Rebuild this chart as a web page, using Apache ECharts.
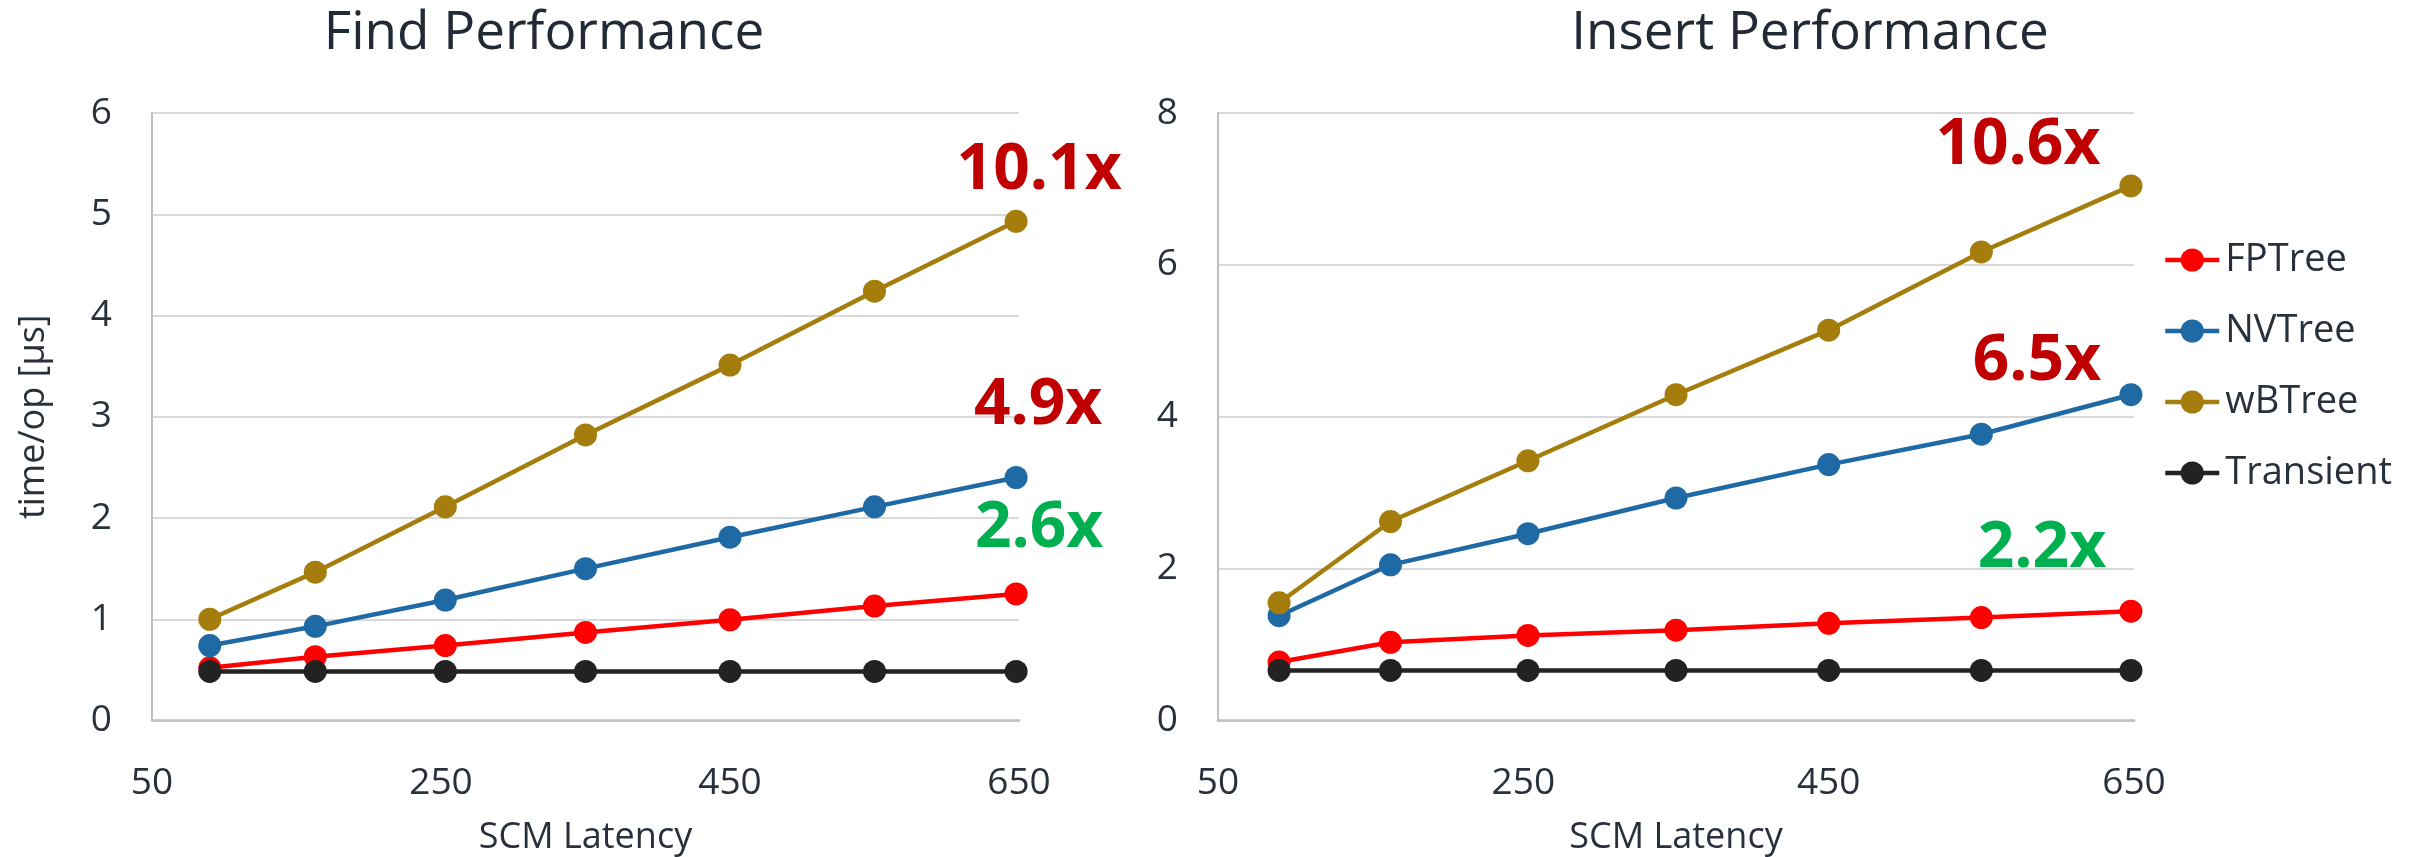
<!DOCTYPE html>
<html>
<head>
<meta charset="utf-8">
<script src="https://cdn.jsdelivr.net/npm/echarts@6/dist/echarts.min.js"></script>
<style>
  html, body { margin: 0; padding: 0; background: #ffffff; }
  #chart { width: 2423px; height: 857px; }
</style>
</head>
<body>
<div id="chart"></div>
<script>
// SCM latency values (x) shared by both panels
const latency = [90, 163, 253, 350, 450, 550, 648];

// Find: time per operation [µs]
const findFPTree    = [0.52, 0.63, 0.74, 0.87, 0.995, 1.13, 1.25];
const findNVTree    = [0.74, 0.93, 1.19, 1.50, 1.81, 2.11, 2.40];
const findWBTree    = [1.00, 1.465, 2.11, 2.82, 3.51, 4.24, 4.93];
const findTransient = [0.485, 0.485, 0.485, 0.485, 0.485, 0.485, 0.485];

// Insert: time per operation [µs]
const insertFPTree    = [0.77, 1.03, 1.12, 1.19, 1.28, 1.355, 1.44];
const insertNVTree    = [1.38, 2.05, 2.46, 2.93, 3.37, 3.77, 4.29];
const insertWBTree    = [1.55, 2.62, 3.42, 4.29, 5.14, 6.17, 7.04];
const insertTransient = [0.66, 0.66, 0.66, 0.66, 0.66, 0.66, 0.66];

const seriesNames = ['FPTree', 'NVTree', 'wBTree', 'Transient'];
const panelTitles = ['Find Performance', 'Insert Performance'];
const xAxisName = 'SCM Latency';
const yAxisName = 'time/op [µs]';

// speedup callouts (slowdown vs. Transient at the highest latency)
const findSpeedups   = ['10.1x', '4.9x', '2.6x'];
const insertSpeedups = ['10.6x', '6.5x', '2.2x'];

const colors = {
  FPTree: '#FF0000',
  NVTree: '#1F6AA5',
  wBTree: '#A57D0C',
  Transient: '#222222'
};
const textColor = '#28303b';
const darkRed = '#C00000';
const green = '#00B050';
const FONT = '"Open Sans", "Noto Sans", sans-serif';
const LINE_W = 4.5;

function pairs(values) {
  return latency.map((x, i) => [x, values[i]]);
}

// a speedup callout anchored at the last point of a series
function callout(text, color, lastY, offset) {
  return {
    coord: [latency[latency.length - 1], lastY],
    symbol: 'circle',
    symbolSize: 1,
    itemStyle: { color: 'rgba(0,0,0,0)' },
    label: {
      show: true,
      position: 'inside',
      offset: offset,
      formatter: text,
      color: color,
      fontFamily: FONT,
      fontWeight: 'bold',
      fontSize: 64
    }
  };
}

function lineSeries(name, panel, values, marks) {
  const s = {
    type: 'line',
    name: name,
    xAxisIndex: panel,
    yAxisIndex: panel,
    data: pairs(values),
    symbol: 'circle',
    symbolSize: 23,
    showAllSymbol: true,
    lineStyle: { width: LINE_W, color: colors[name] },
    itemStyle: { color: colors[name] },
    emphasis: { disabled: true },
    animation: false
  };
  if (marks) {
    s.markPoint = { silent: true, animation: false, data: marks };
  }
  return s;
}

const last = arr => arr[arr.length - 1];

const series = [
  lineSeries('FPTree', 0, findFPTree),
  lineSeries('NVTree', 0, findNVTree, [
    callout(findSpeedups[1], darkRed, last(findNVTree), [22, -72]),
    callout(findSpeedups[2], green, last(findNVTree), [23, 51])
  ]),
  lineSeries('wBTree', 0, findWBTree, [
    callout(findSpeedups[0], darkRed, last(findWBTree), [23, -51])
  ]),
  lineSeries('Transient', 0, findTransient),

  lineSeries('FPTree', 1, insertFPTree, [
    callout(insertSpeedups[2], green, last(insertFPTree), [-89, -62])
  ]),
  lineSeries('NVTree', 1, insertNVTree, [
    callout(insertSpeedups[1], darkRed, last(insertNVTree), [-94, -33])
  ]),
  lineSeries('wBTree', 1, insertWBTree, [
    callout(insertSpeedups[0], darkRed, last(insertWBTree), [-113, -40])
  ]),
  lineSeries('Transient', 1, insertTransient)
];

function xAxis(gridIndex) {
  return {
    type: 'value',
    gridIndex: gridIndex,
    min: 50,
    max: 650,
    interval: 200,
    name: xAxisName,
    nameLocation: 'middle',
    nameGap: 99,
    nameTextStyle: { fontFamily: FONT, fontSize: 36, color: textColor },
    axisLine: { show: true, lineStyle: { color: '#BFBFBF', width: 2.5 } },
    axisTick: { show: false },
    splitLine: { show: false },
    axisLabel: { fontFamily: FONT, fontSize: 37, color: textColor, margin: 44 }
  };
}

function yAxis(gridIndex, max, interval, withName) {
  const a = {
    type: 'value',
    gridIndex: gridIndex,
    min: 0,
    max: max,
    interval: interval,
    axisLine: { show: true, lineStyle: { color: '#BFBFBF', width: 2 } },
    axisTick: { show: false },
    splitLine: { show: true, lineStyle: { color: '#D9D9D9', width: 2 } },
    axisLabel: { fontFamily: FONT, fontSize: 37, color: textColor, margin: 40 }
  };
  if (withName) {
    a.name = yAxisName;
    a.nameLocation = 'middle';
    a.nameRotate = 90;
    a.nameGap = 100;
    a.nameTextStyle = { fontFamily: FONT, fontSize: 36, color: textColor };
  }
  return a;
}

const chart = echarts.init(document.getElementById('chart'), null, { renderer: 'canvas' });
chart.setOption({
  backgroundColor: '#ffffff',
  animation: false,
  title: [
    {
      text: panelTitles[0], left: 539, top: 2, textAlign: 'center',
      textStyle: { fontFamily: FONT, fontSize: 53, fontWeight: 'normal', color: '#222a35' }
    },
    {
      text: panelTitles[1], left: 1805, top: 2, textAlign: 'center',
      textStyle: { fontFamily: FONT, fontSize: 53, fontWeight: 'normal', color: '#222a35' }
    }
  ],
  legend: {
    data: seriesNames,
    orient: 'vertical',
    left: 2158,
    top: 236,
    itemWidth: 54,
    itemHeight: 29,
    itemGap: 33,
    selectedMode: false,
    lineStyle: { width: LINE_W },
    textStyle: { fontFamily: FONT, fontSize: 38, color: textColor, padding: [0, 0, 0, 1] }
  },
  grid: [
    { left: 152, top: 113, width: 867, height: 607.5, containLabel: false, outerBoundsMode: 'none' },
    { left: 1218, top: 113, width: 916, height: 607.5, containLabel: false, outerBoundsMode: 'none' }
  ],
  xAxis: [xAxis(0), xAxis(1)],
  yAxis: [yAxis(0, 6, 1, true), yAxis(1, 8, 2, false)],
  series: series
});
</script>
</body>
</html>
